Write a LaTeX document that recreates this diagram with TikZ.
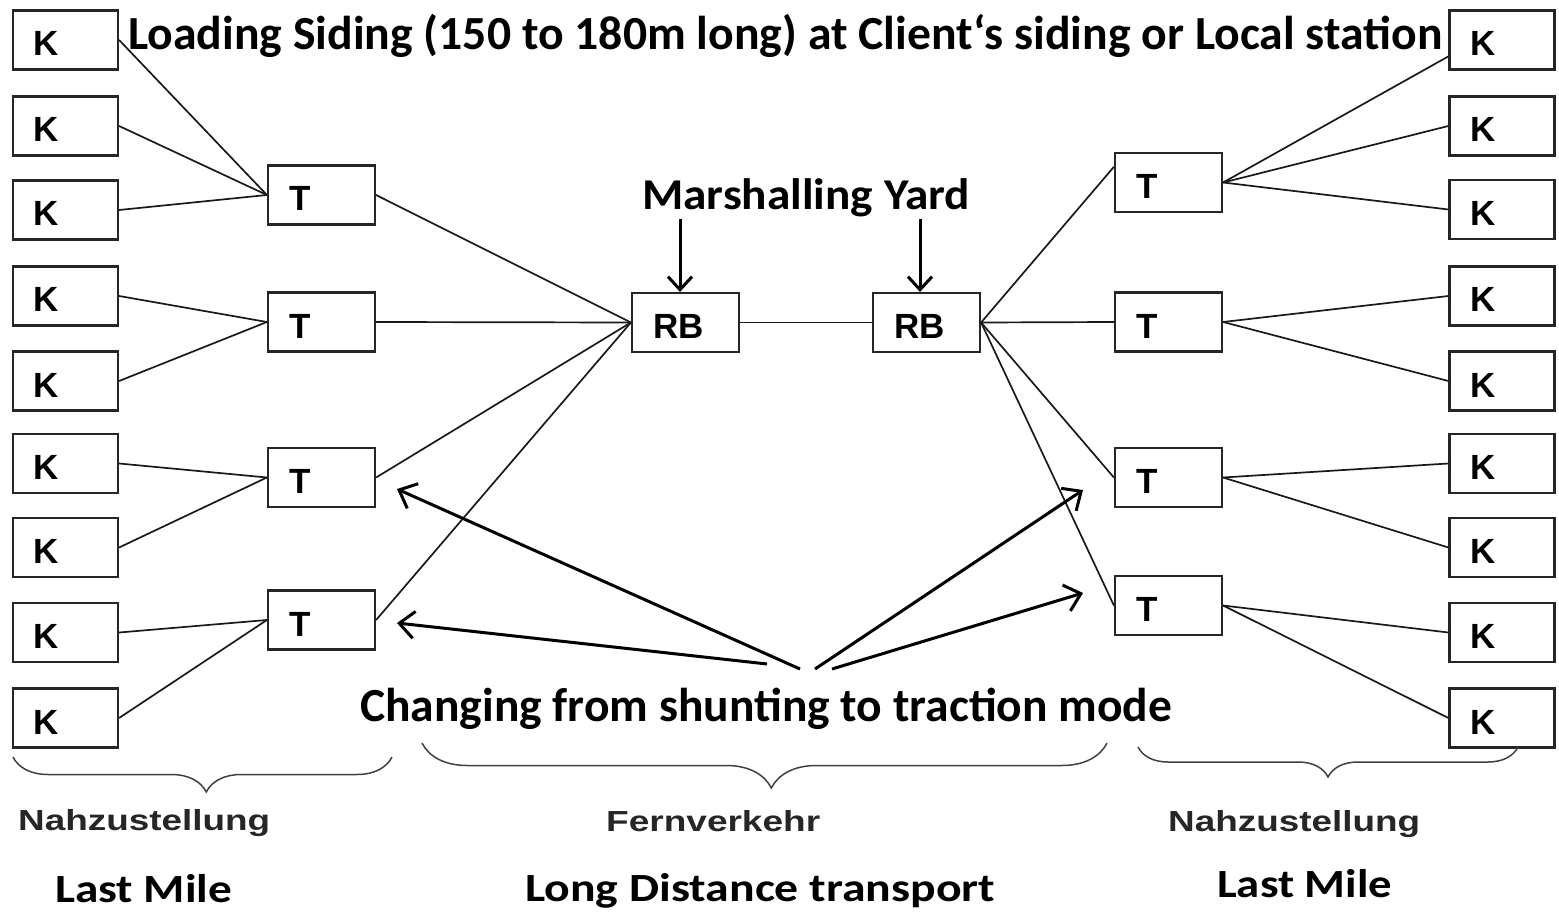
\documentclass[tikz,border=0pt]{standalone}
\usepackage{fontspec}
\usepackage{graphicx}
\usetikzlibrary{arrows.meta,decorations.pathreplacing,calc}
\newfontfamily\carl{Carlito}
\newfontfamily\arl{Liberation Sans}
\newcommand\fitw[2]{\resizebox{#1}{\height}{#2}}
\tikzset{
  box/.style={draw=black!85, line width=2.2pt, minimum height=59pt, inner xsep=21pt, inner ysep=0pt,
    align=left, text height=32pt, text depth=0pt, font=\arl\bfseries\fontsize{35}{35}\selectfont},
  kbox/.style={box, text width=63pt},
  tbox/.style={box, text width=65pt},
  conn/.style={line width=1.7pt, black!90},
  lbl/.style={inner sep=0pt, anchor=base west},
  big/.style={lbl, font=\carl\bfseries\fontsize{47.5}{50}\selectfont},
  mid/.style={lbl, font=\carl\bfseries\fontsize{40}{42}\selectfont},
  small/.style={lbl, font=\arl\bfseries\fontsize{29}{30}\selectfont, text=black!85},
  arr/.style={line width=3pt, -{Straight Barb[length=15pt,width=27pt]}},
  marr/.style={line width=3pt, -{Straight Barb[length=13pt,width=24pt]}},
  brc/.style={line width=1.5pt, black!75, decorate},
}
\begin{document}
\begin{tikzpicture}[x=1pt,y=-1pt]
\useasboundingbox (0,0) rectangle (1559,912);
% left K
\foreach \i/\yy in {1/40,2/126,3/210,4/296,5/381,6/463.5,7/547.5,8/632.5,9/718}
  \node[kbox] (lk\i) at (65.5,\yy) {K};
% left T
\foreach \i/\yy in {1/195,2/322,3/477.5,4/620}
  \node[tbox] (lt\i) at (321.5,\yy) {T};
% RB
\node[tbox] (rb1) at (685.5,322.5) {RB};
\node[tbox] (rb2) at (926.5,322.5) {RB};
% right T
\foreach \i/\yy in {1/182.5,2/322,3/477.5,4/605.5}
  \node[tbox] (rt\i) at (1168.5,\yy) {T};
% right K
\foreach \i/\yy in {1/40,2/126,3/209.5,4/296,5/381,6/463.5,7/547.5,8/632.5,9/718}
  \node[kbox] (rk\i) at (1502,\yy) {K};

% connectors left
\draw[conn] (lk1.east) -- (lt1.west);
\draw[conn] (lk2.east) -- (lt1.west);
\draw[conn] (lk3.east) -- (lt1.west);
\draw[conn] (lk4.east) -- (lt2.west);
\draw[conn] (lk5.east) -- (lt2.west);
\draw[conn] (lk6.east) -- (lt3.west);
\draw[conn] (lk7.east) -- (lt3.west);
\draw[conn] (lk8.east) -- (lt4.west);
\draw[conn] (lk9.east) -- (lt4.west);
\foreach \i in {1,2,3,4} \draw[conn] (lt\i.east) -- (rb1.west);
\draw[conn] (rb1.east) -- (rb2.west);
\draw[conn] (rb2.east) -- (rt1.164);
\foreach \i in {2,3,4} \draw[conn] (rb2.east) -- (rt\i.west);
\draw[conn] (rt1.east) -- (rk1.197);
\draw[conn] (rt1.east) -- (rk2.west);
\draw[conn] (rt1.east) -- (rk3.west);
\draw[conn] (rt2.east) -- (rk4.west);
\draw[conn] (rt2.east) -- (rk5.west);
\draw[conn] (rt3.east) -- (rk6.west);
\draw[conn] (rt3.east) -- (rk7.west);
\draw[conn] (rt4.east) -- (rk8.west);
\draw[conn] (rt4.east) -- (rk9.west);

% texts
\node[big] (title) at (128,50) {\fitw{1314pt}{Loading Siding (150 to 180m long) at Client‘s siding or Local station}};
\node[big,font=\carl\bfseries\fontsize{44}{46}\selectfont] (my) at (642,210) {\fitw{328pt}{Marshalling Yard}};
\node[big] (chg) at (360,721) {\fitw{812pt}{Changing from shunting to traction mode}};

% marshalling arrows
\coordinate (my1) at (680,219);
\coordinate (my2) at (920,219);
\draw[marr] (my1) -- (my1 |- rb1.north);
\draw[marr] (my2) -- (my2 |- rb2.north);

% changing arrows
\coordinate (a1) at (800,669); \coordinate (b1) at (397,489);
\coordinate (a2) at (767,664); \coordinate (b2) at (397,623);
\coordinate (a3) at (815,669); \coordinate (b3) at (1083,490);
\coordinate (a4) at (832,669); \coordinate (b4) at (1083,593);
\draw[arr] (a1) -- (b1);
\draw[arr] (a2) -- (b2);
\draw[arr] (a3) -- (b3);
\draw[arr] (a4) -- (b4);

% braces
\draw[brc, decoration={brace, amplitude=35pt, aspect=0.49}] (392,757) -- (13,757);
\draw[brc, decoration={brace, amplitude=45pt, aspect=0.49}] (1107,743) -- (422,743);
\draw[brc, decoration={brace, amplitude=30pt, aspect=0.5}] (1518,747) -- (1138,747);

% bottom labels
\node[small] (n1) at (18,830) {\fitw{252pt}{Nahzustellung}};
\node[small] (fv) at (606,831) {\fitw{214pt}{Fernverkehr}};
\node[small] (n2) at (1168,831) {\fitw{252pt}{Nahzustellung}};
\node[mid] (lm1) at (55,902) {\fitw{177pt}{Last Mile}};
\node[mid] (ld) at (525,901) {\fitw{470pt}{Long Distance transport}};
\node[mid] (lm2) at (1217,897) {\fitw{175pt}{Last Mile}};
\end{tikzpicture}
\end{document}
